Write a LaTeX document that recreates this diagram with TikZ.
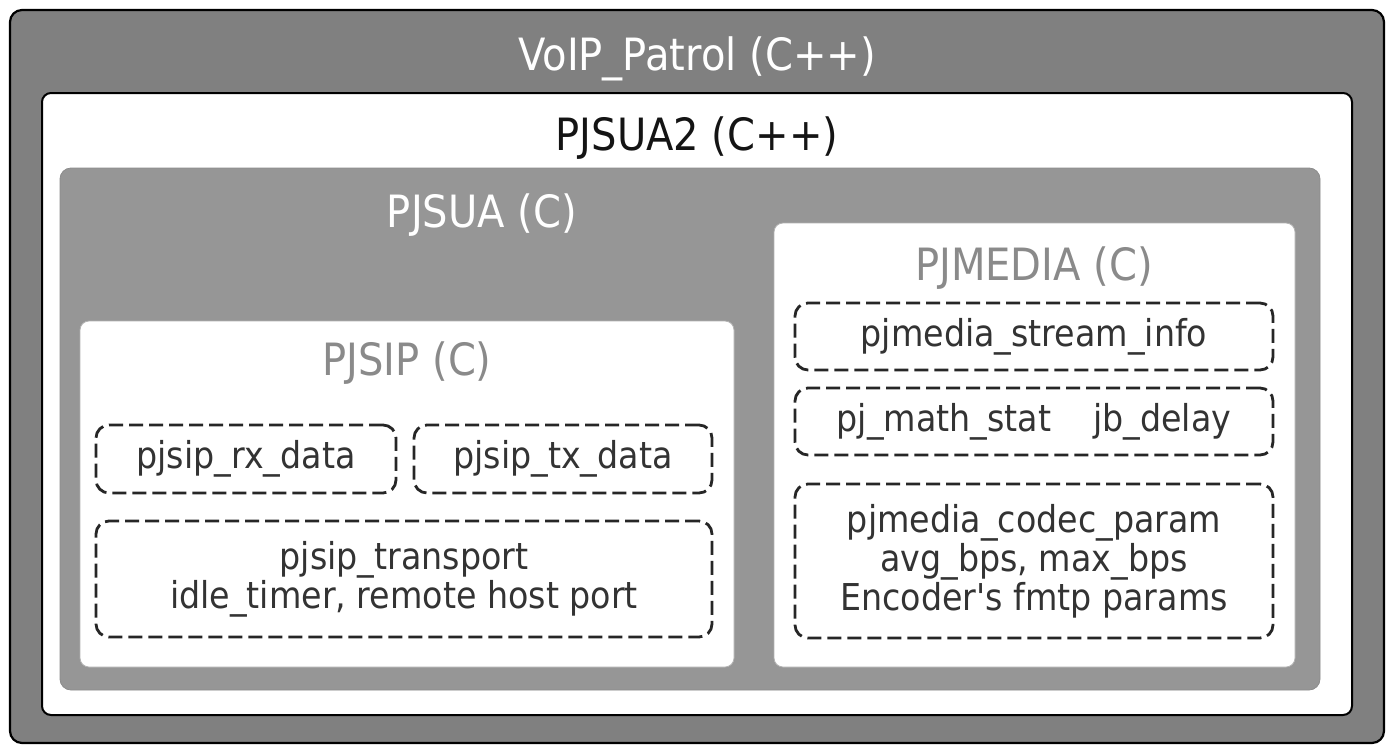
\documentclass[tikz,border=0pt]{standalone}
\usepackage{fontspec}
\setmainfont{DejaVu Sans}[FakeStretch=0.9, Ligatures=TeXOff]
\definecolor{outergray}{HTML}{808080}
\definecolor{midgray}{HTML}{969696}
\definecolor{headgray}{HTML}{8A8A8A}
\definecolor{smalltext}{HTML}{333333}
\tikzset{
  outerbox/.style={draw=black, line width=2.2pt, fill=outergray, rounded corners=12pt, inner sep=0pt},
  whitebig/.style={draw=black, line width=2pt, fill=white, rounded corners=9pt, inner sep=0pt},
  graybox/.style={draw=black!45, line width=0.8pt, fill=midgray, rounded corners=11pt, inner sep=0pt},
  whitebox/.style={draw=black!30, line width=0.8pt, fill=white, rounded corners=9pt, inner sep=0pt},
  dashbox/.style={draw=black!85, line width=2.8pt, dash pattern=on 14pt off 6pt, rounded corners=13pt, inner sep=0pt, align=center, text=smalltext, font=\fontsize{37}{39}\selectfont},
  headtext/.style={anchor=base, inner sep=0pt, font=\fontsize{44.5}{48}\selectfont},
}
\begin{document}
\begin{tikzpicture}[x=1pt,y=-1pt]
\useasboundingbox (0,0) rectangle (1392,753);
\node[outerbox, minimum width=1374pt, minimum height=733pt] (voip) at (697,376.5) {};
\node[whitebig, minimum width=1310pt, minimum height=622pt] (pjsua2) at (697,404) {};
\node[graybox, minimum width=1260pt, minimum height=522pt] (pjsua) at (690,429) {};
\node[whitebox, minimum width=654pt, minimum height=346pt] (pjsip) at (407,494) {};
\node[whitebox, minimum width=521pt, minimum height=444pt] (pjmedia) at (1034.5,445) {};

\node[headtext, text=white] (voiplabel) at (697,70) {VoIP\_Patrol (C++)};
\node[headtext, text=black!92] (pjsua2label) at (697,150) {PJSUA2 (C++)};
\node[headtext, text=white] (pjsualabel) at (482,227) {PJSUA (C)};
\node[headtext, text=headgray] (pjsiplabel) at (407,375) {PJSIP (C)};
\node[headtext, text=headgray] (pjmedialabel) at (1034,280) {PJMEDIA (C)};

\node[dashbox, minimum width=300pt, minimum height=68pt] (rx) at (246,459) {pjsip\_rx\_data};
\node[dashbox, minimum width=298pt, minimum height=68pt] (tx) at (563,459) {pjsip\_tx\_data};
\node[dashbox, minimum width=616pt, minimum height=116pt] (transport) at (404,579) {pjsip\_transport\\idle\_timer, remote host port};
\node[dashbox, minimum width=478pt, minimum height=67pt] (stream) at (1034,336.5) {pjmedia\_stream\_info};
\node[dashbox, minimum width=478pt, minimum height=67pt] (mathstat) at (1034,421.5) {pj\_math\_stat\hspace{42pt}jb\_delay};
\node[dashbox, minimum width=478pt, minimum height=154pt] (codec) at (1034,561) {pjmedia\_codec\_param\\avg\_bps, max\_bps\\Encoder's fmtp params};
\end{tikzpicture}
\end{document}
